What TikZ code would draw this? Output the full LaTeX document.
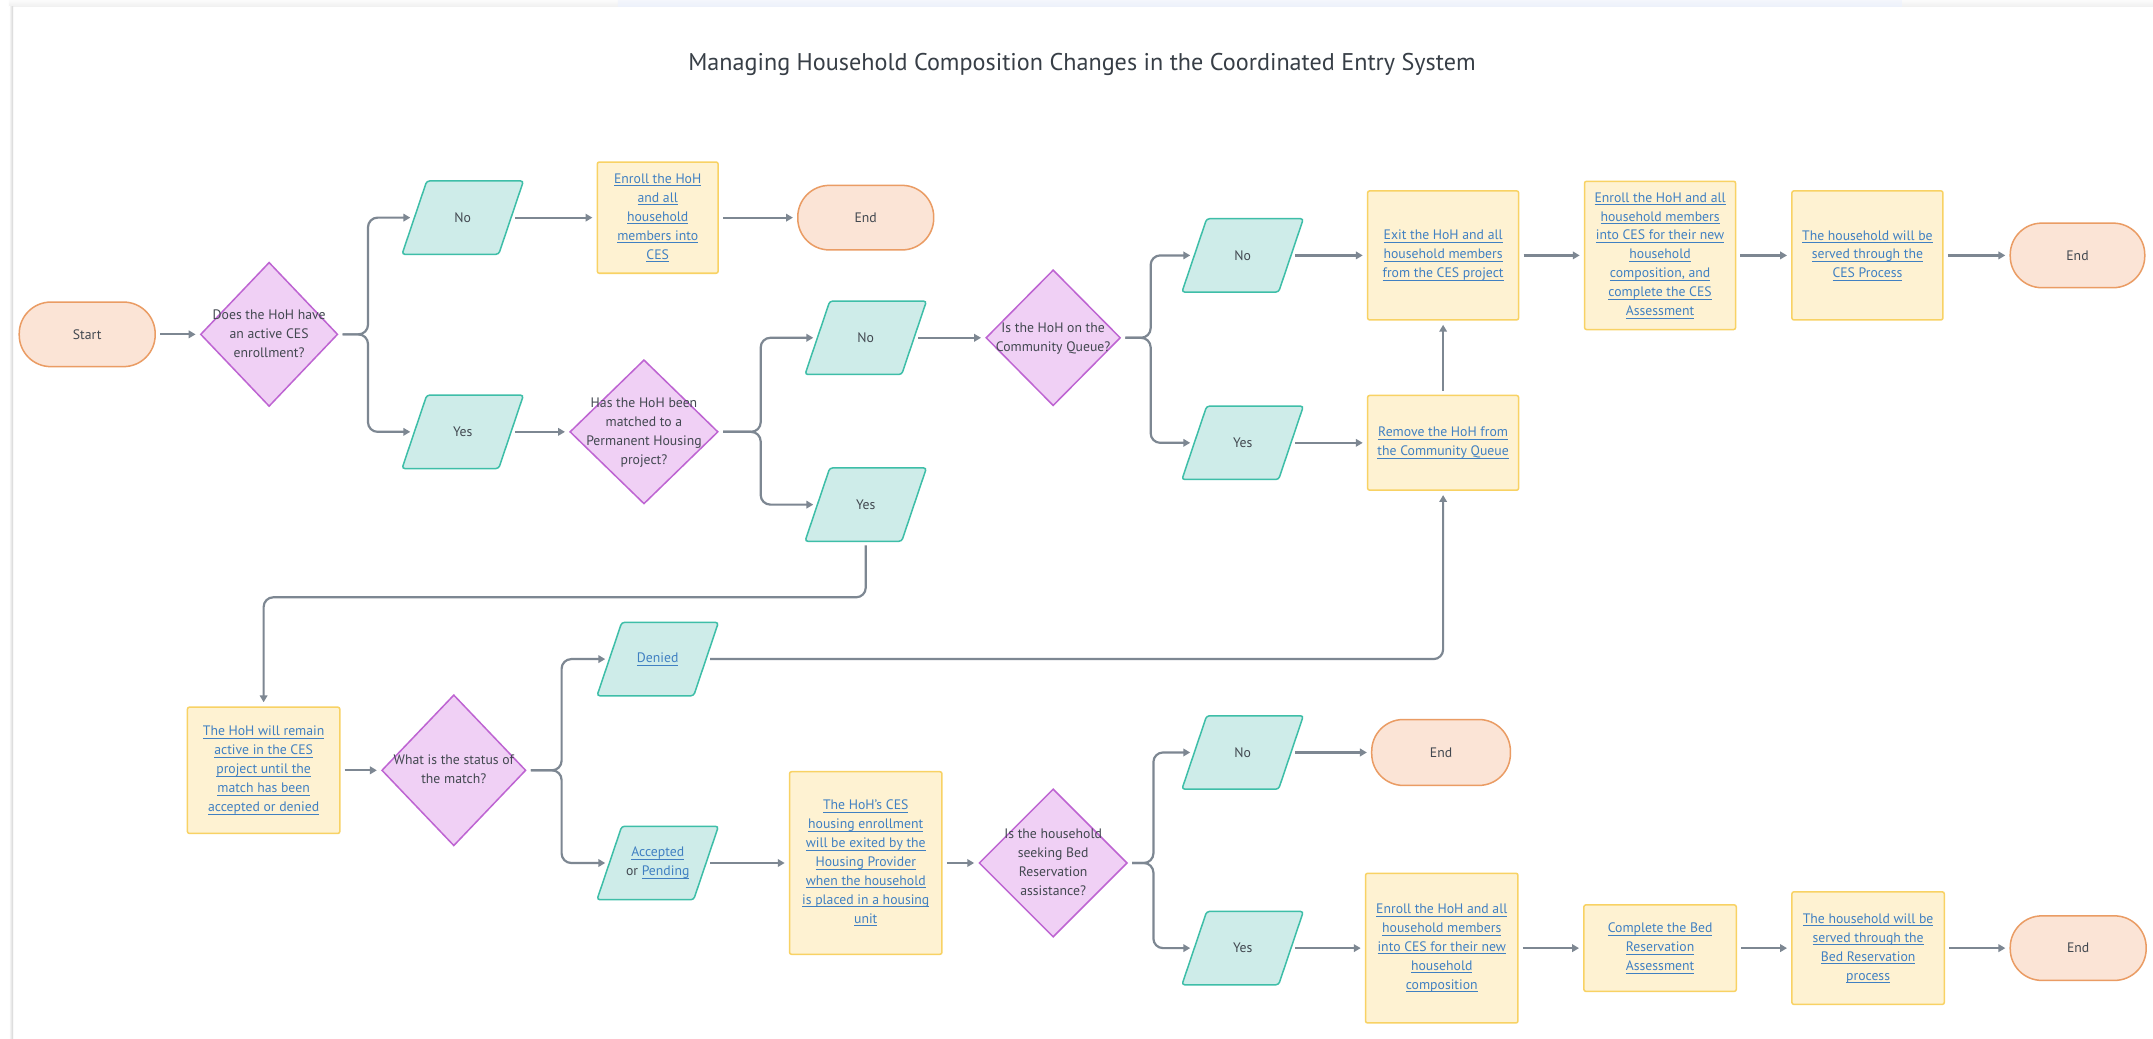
\documentclass[tikz,border=0pt]{standalone}
\usepackage{fontspec}
\setmainfont{PT Sans}
\usetikzlibrary{shapes.geometric,arrows.meta,backgrounds}
\definecolor{txt}{RGB}{66,72,80}
\definecolor{titc}{RGB}{55,62,70}
\definecolor{linkc}{RGB}{64,128,194}
\definecolor{arr}{RGB}{125,135,146}
\definecolor{termf}{RGB}{251,228,214}
\definecolor{termd}{RGB}{234,156,100}
\definecolor{diaf}{RGB}{240,208,245}
\definecolor{diad}{RGB}{190,100,210}
\definecolor{parf}{RGB}{206,236,233}
\definecolor{pard}{RGB}{62,190,168}
\definecolor{boxf}{RGB}{254,242,210}
\definecolor{boxd}{RGB}{248,210,100}
\definecolor{bandc}{RGB}{236,240,250}
\newcommand\nf{\fontsize{10}{13.8}\selectfont}
\newcommand\lk[1]{\setbox0=\hbox{#1}\rlap{\rule[-1.9pt]{\wd0}{0.5pt}}\box0}
\newcommand\dt[1]{\smash{\makebox[0pt]{\raisebox{-0.25em}{\begin{tabular}{@{}c@{}}#1\end{tabular}}}}}
\tikzset{
  term/.style={draw=termd, fill=termf, line width=1.1pt, rounded corners=23pt,
    minimum width=99pt, minimum height=47pt, inner sep=0pt, text=txt, font=\nf},
  dia/.style={shape=diamond, draw=diad, fill=diaf, line width=1.1pt, inner sep=0pt,
    text=txt, font=\nf},
  par/.style={shape=rectangle, minimum width=70pt, minimum height=53pt, inner sep=0pt,
    text=txt, align=center, font=\nf},
  parshape/.style={draw=pard, fill=parf, line width=1.1pt, rounded corners=2pt},
  box/.style={draw=boxd, fill=boxf, line width=1.1pt, rounded corners=1.5pt,
    inner sep=0pt, text=linkc, align=center, font=\nf},
  conn/.style={draw=arr, line width=1.6pt, rounded corners=7pt,
    -{Triangle[length=5pt,width=5.5pt]}, shorten <=3pt, shorten >=3pt},
}
\begin{document}
\begin{tikzpicture}[x=1pt,y=-1pt]
\useasboundingbox (0,0) rectangle (1568,756);
\begin{scope}[on background layer]
\fill[white] (0,0) rectangle (1568,756);
\shade[top color=gray!3, bottom color=gray!12] (6.5,0) rectangle (1568,5);
\shade[top color=bandc!60, bottom color=bandc] (450,0) rectangle (1385,5);
\shade[left color=white, right color=gray!35] (6.5,5) rectangle (9.5,756);
\end{scope}

\node[font=\fontsize{17.6}{21}\selectfont, text=titc] (title) at (788,47)
  {Managing Household Composition Changes in the Coordinated Entry System};

% row 1
\node[term] (start) at (63.5,243.5) {Start};
\node[dia, minimum width=100pt, minimum height=105pt] (d1) at (196,243.5)
  {\dt{Does the HoH have\\an active CES\\enrollment?}};
\node[par] (no1) at (337,158.5) {No};
\node[par] (yes1) at (337,314.5) {Yes};
\node[box, minimum width=88pt, minimum height=81pt] (enr1) at (479,158.5)
  {\lk{Enroll the HoH}\\\lk{and all}\\\lk{household}\\\lk{members into}\\\lk{CES}};
\node[term] (end1) at (630.5,158.5) {End};
\node[dia, minimum width=108pt, minimum height=105pt] (d2) at (469,314.5)
  {\dt{Has the HoH been\\matched to a\\Permanent Housing\\project?}};
\node[par] (no2) at (630.5,246) {No};
\node[par] (yes2) at (630.5,367.5) {Yes};
\node[dia, minimum width=98pt, minimum height=99pt] (d3) at (767,246)
  {\dt{Is the HoH on the\\Community Queue?}};
\node[par] (no3) at (905,186) {No};
\node[par] (yes3) at (905,322.5) {Yes};
\node[box, minimum width=110pt, minimum height=94pt] (exit) at (1051,186)
  {\lk{Exit the HoH and all}\\\lk{household members}\\\lk{from the CES project}};
\node[box, minimum width=110pt, minimum height=69pt] (remove) at (1051,322.5)
  {\lk{Remove the HoH from}\\\lk{the Community Queue}};
\node[box, minimum width=110pt, minimum height=108pt] (enr2) at (1209,186)
  {\lk{Enroll the HoH and all}\\\lk{household members}\\\lk{into CES for their new}\\\lk{household}\\\lk{composition, and}\\\lk{complete the CES}\\\lk{Assessment}};
\node[box, minimum width=110pt, minimum height=94pt] (served1) at (1360,186)
  {\lk{The household will be}\\\lk{served through the}\\\lk{CES Process}};
\node[term, minimum width=98pt] (end2) at (1513,186) {End};

% row 2
\node[box, minimum width=111pt, minimum height=92pt] (remain) at (192,561)
  {\lk{The HoH will remain}\\\lk{active in the CES}\\\lk{project until the}\\\lk{match has been}\\\lk{accepted or denied}};
\node[dia, minimum width=105pt, minimum height=110pt] (d4) at (330.5,561)
  {\dt{What is the status of\\the match?}};
\node[par, text=linkc] (denied) at (479,480) {\lk{Denied}};
\node[par] (accpend) at (479,628.5)
  {\textcolor{linkc}{\lk{Accepted}}\\or \textcolor{linkc}{\lk{Pending}}};
\node[box, minimum width=111pt, minimum height=133pt] (hcs) at (630.5,628.5)
  {\lk{The HoH’s CES}\\\lk{housing enrollment}\\\lk{will be exited by the}\\\lk{Housing Provider}\\\lk{when the household}\\\lk{is placed in a housing}\\\lk{unit}};
\node[dia, minimum width=108pt, minimum height=108pt] (d5) at (767,628.5)
  {\dt{Is the household\\seeking Bed\\Reservation\\assistance?}};
\node[par] (no5) at (905,548) {No};
\node[term, minimum width=101pt, minimum height=48pt] (end3) at (1049.5,548) {End};
\node[par] (yes5) at (905,690.5) {Yes};
\node[box, minimum width=111pt, minimum height=109pt] (enr3) at (1050,690.5)
  {\lk{Enroll the HoH and all}\\\lk{household members}\\\lk{into CES for their new}\\\lk{household}\\\lk{composition}};
\node[box, minimum width=111pt, minimum height=63pt] (complete) at (1209,690.5)
  {\lk{Complete the Bed}\\\lk{Reservation}\\\lk{Assessment}};
\node[box, minimum width=111pt, minimum height=82pt] (served2) at (1360.5,690.5)
  {\lk{The household will be}\\\lk{served through the}\\\lk{Bed Reservation}\\\lk{process}};
\node[term] (end4) at (1513.5,690.5) {End};

% parallelogram outlines behind their texts
\begin{scope}[on background layer]
\foreach \n in {no1,yes1,no2,yes2,no3,yes3,denied,accpend,no5,yes5}
  \filldraw[parshape] ([xshift=-9pt]\n.south west) -- ([xshift=-9pt]\n.south east)
    -- ([xshift=9pt]\n.north east) -- ([xshift=9pt]\n.north west) -- cycle;
\end{scope}

% junctions
\coordinate (j1) at (268,243.5);
\coordinate (j2) at (554,314.5);
\coordinate (j3) at (838,246);
\coordinate (j4) at (400,435);
\coordinate (j5) at (409,561);
\coordinate (j6) at (840,628.5);

% connectors
\draw[conn] (start.east) -- (d1.west);
\draw[conn] (d1.east) -- (j1) |- (no1.west);
\draw[conn] (d1.east) -- (j1) |- (yes1.west);
\draw[conn] (no1.east) -- (enr1.west);
\draw[conn] (enr1.east) -- (end1.west);
\draw[conn] (yes1.east) -- (d2.west);
\draw[conn] (d2.east) -- (j2) |- (no2.west);
\draw[conn] (d2.east) -- (j2) |- (yes2.west);
\draw[conn] (no2.east) -- (d3.west);
\draw[conn] (d3.east) -- (j3) |- (no3.west);
\draw[conn] (d3.east) -- (j3) |- (yes3.west);
\draw[conn] (no3.east) -- (exit.west);
\draw[conn] (yes3.east) -- (remove.west);
\draw[conn] (remove.north) -- (exit.south);
\draw[conn] (exit.east) -- (enr2.west);
\draw[conn] (enr2.east) -- (served1.west);
\draw[conn] (served1.east) -- (end2.west);
\draw[conn] (yes2.south) |- (j4) -| (remain.north);
\draw[conn] (remain.east) -- (d4.west);
\draw[conn] (d4.east) -- (j5) |- (denied.west);
\draw[conn] (d4.east) -- (j5) |- (accpend.west);
\draw[conn] (denied.east) -| (remove.south);
\draw[conn] (accpend.east) -- (hcs.west);
\draw[conn] (hcs.east) -- (d5.west);
\draw[conn] (d5.east) -- (j6) |- (no5.west);
\draw[conn] (d5.east) -- (j6) |- (yes5.west);
\draw[conn] (no5.east) -- (end3.west);
\draw[conn] (yes5.east) -- (enr3.west);
\draw[conn] (enr3.east) -- (complete.west);
\draw[conn] (complete.east) -- (served2.west);
\draw[conn] (served2.east) -- (end4.west);
\end{tikzpicture}
\end{document}
